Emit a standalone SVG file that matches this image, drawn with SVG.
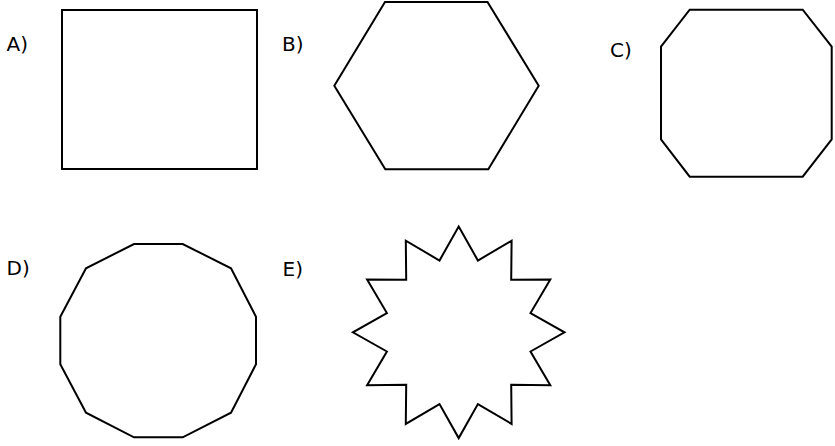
<svg xmlns="http://www.w3.org/2000/svg" width="835" height="446" viewBox="0 0 835 446">
<style>
.shape{fill:none;stroke:#000;stroke-width:2;stroke-linejoin:miter}
.lbl{font-family:"DejaVu Sans",sans-serif;font-size:20px;fill:#000}
</style>
<rect width="835" height="446" fill="#fff"/>
<g id="optA">
<text class="lbl" x="6.5" y="51">A)</text>
<rect class="shape" x="62" y="10" width="195" height="159"/>
</g>
<g id="optB">
<text class="lbl" x="282" y="51">B)</text>
<polygon class="shape" points="385,2 487.5,2 538.7,85.7 488.3,169.3 385.3,169.3 334.3,85.7"/>
</g>
<g id="optC">
<text class="lbl" x="610" y="56.5">C)</text>
<polygon class="shape" points="689.7,9.7 802.7,9.7 831.7,46.7 831.7,139.3 802.7,176.7 689.7,176.7 661,139.3 661,46.7"/>
</g>
<g id="optD">
<text class="lbl" x="6.5" y="275">D)</text>
<polygon class="shape" points="134,244 182.7,244 231,268.3 256,316.7 256,364.3 231,412.7 182.7,437.3 134,437.3 86,412.7 60.3,364.3 60.3,316.7 86,268.3"/>
</g>
<g id="optE">
<text class="lbl" x="282.5" y="276">E)</text>
<polygon class="shape" points="458.7,226.5 477.9,260.5 511.6,240.7 511.2,279.8 550.3,279.4 530.5,313.1 564.5,332.3 530.5,351.5 550.3,385.2 511.2,384.8 511.6,423.9 477.9,404.1 458.7,438.1 439.5,404.1 405.8,423.9 406.2,384.8 367.1,385.2 386.9,351.5 352.9,332.3 386.9,313.1 367.1,279.4 406.2,279.8 405.8,240.7 439.5,260.5"/>
</g>
<g id="connectors"/>
</svg>
